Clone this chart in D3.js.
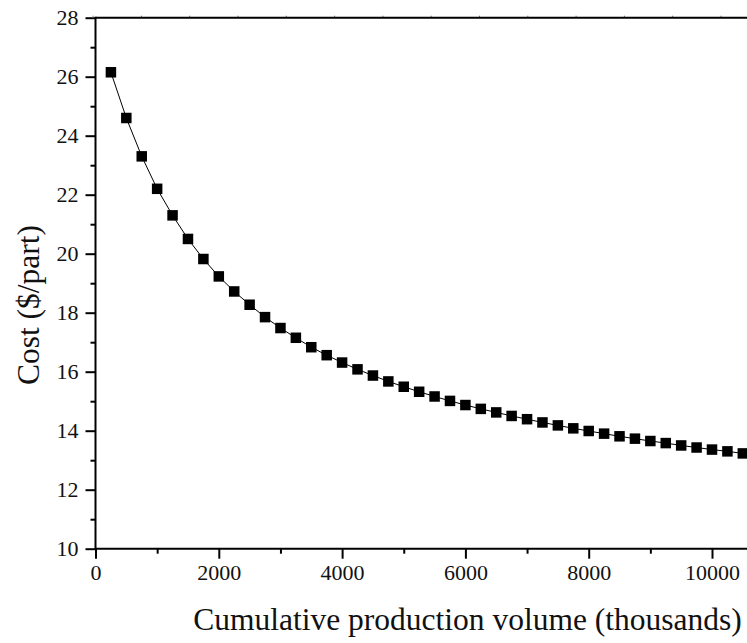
<!DOCTYPE html>
<html>
<head>
<meta charset="utf-8">
<script src="https://cdn.jsdelivr.net/npm/d3@7"></script>
<style>
  body { margin: 0; background: #fff; }
  svg { display: block; font-family: "Liberation Serif", "Times New Roman", serif; }
</style>
</head>
<body>
<div id="chart"></div>
<script>
// Size of the page
const WIDTH = 747;
const HEIGHT = 643;

// Plot box
const LEFT = 95.5;
const TOP = 17.7;
const BOTTOM = 548.7;

// Data
const volume = [
  250, 500, 750, 1000, 1250, 1500, 1750, 2000, 2250, 2500, 2750, 3000, 3250, 3500,
  3750, 4000, 4250, 4500, 4750, 5000, 5250, 5500, 5750, 6000, 6250, 6500, 6750, 7000,
  7250, 7500, 7750, 8000, 8250, 8500, 8750, 9000, 9250, 9500, 9750, 10000, 10250, 10500
];
const cost = [
  26.15, 24.6, 23.3, 22.2, 21.3, 20.5, 19.82, 19.23, 18.72, 18.27, 17.85, 17.48, 17.15, 16.83,
  16.56, 16.31, 16.08, 15.87, 15.67, 15.49, 15.32, 15.16, 15.01, 14.87, 14.74, 14.62, 14.5, 14.39,
  14.28, 14.18, 14.08, 13.99, 13.9, 13.81, 13.73, 13.65, 13.58, 13.5, 13.43, 13.36, 13.3, 13.23
];

// Tick values
const xMajor = [0, 2000, 4000, 6000, 8000, 10000];
const xMinor = [1000, 3000, 5000, 7000, 9000, 11000];
const yMajor = [10, 12, 14, 16, 18, 20, 22, 24, 26, 28];
const yMinor = [11, 13, 15, 17, 19, 21, 23, 25, 27];

const points = volume.map((v, i) => [v, cost[i]]);

var svg = d3
  .select("#chart")
  .append("svg")
  .attr("width", WIDTH)
  .attr("height", HEIGHT);

// Scales
const xScale = d3.scaleLinear().domain([0, 10000]).range([LEFT, 712]);
const yScale = d3.scaleLinear().domain([10, 28]).range([BOTTOM, TOP]);
const xEnd = xScale.invert(WIDTH + 5);

/* Styles an axis group */
function styleAxis(g) {
  g.attr("font-family", '"Liberation Serif", "Times New Roman", serif').attr("font-size", 22);
  g.select(".domain").remove();
  g.selectAll(".tick line").attr("stroke", "#000").attr("stroke-width", 2);
  g.selectAll(".tick text").attr("fill", "#111");
}

// Bottom axis, major then minor ticks
svg
  .append("g")
  .attr("transform", "translate(0," + BOTTOM + ")")
  .call(d3.axisBottom(xScale).tickValues(xMajor).tickSize(10).tickPadding(6).tickFormat(d3.format("d")))
  .call(styleAxis);

svg
  .append("g")
  .attr("transform", "translate(0," + BOTTOM + ")")
  .call(d3.axisBottom(xScale).tickValues(xMinor).tickSize(5).tickFormat(""))
  .call(styleAxis);

// Left axis, major then minor ticks
svg
  .append("g")
  .attr("transform", "translate(" + LEFT + ",0)")
  .call(d3.axisLeft(yScale).tickValues(yMajor).tickSize(10).tickPadding(7).tickFormat(d3.format("d")))
  .call(styleAxis);

svg
  .append("g")
  .attr("transform", "translate(" + LEFT + ",0)")
  .call(d3.axisLeft(yScale).tickValues(yMinor).tickSize(5).tickFormat(""))
  .call(styleAxis);

// Top axis, small faint ticks
svg
  .append("g")
  .attr("transform", "translate(0," + TOP + ")")
  .call(d3.axisTop(d3.scaleLinear().domain([0, 14]).range([92.6, 92.6 + 14 * 48.3])).ticks(14).tickSize(2).tickFormat(""))
  .call((g) => {
    g.select(".domain").remove();
    g.selectAll(".tick line").attr("stroke", "#777").attr("stroke-width", 1);
  });

// Frame lines
svg
  .append("line")
  .attr("x1", LEFT)
  .attr("x2", xScale(xEnd))
  .attr("y1", TOP)
  .attr("y2", TOP)
  .attr("stroke", "#000")
  .attr("stroke-width", 2);

svg
  .append("line")
  .attr("x1", LEFT)
  .attr("x2", xScale(xEnd))
  .attr("y1", BOTTOM)
  .attr("y2", BOTTOM)
  .attr("stroke", "#000")
  .attr("stroke-width", 2);

svg
  .append("line")
  .attr("x1", LEFT)
  .attr("x2", LEFT)
  .attr("y1", TOP - 1)
  .attr("y2", BOTTOM + 1)
  .attr("stroke", "#000")
  .attr("stroke-width", 2);

// Thin connecting line
const line = d3
  .line()
  .x((d) => xScale(d[0]))
  .y((d) => yScale(d[1]));

svg
  .append("path")
  .datum(points)
  .attr("d", line)
  .attr("fill", "none")
  .attr("stroke", "#000")
  .attr("stroke-width", 1);

// Square markers
const MARK = 10.5;
svg
  .selectAll("rect.mark")
  .data(points)
  .enter()
  .append("rect")
  .attr("class", "mark")
  .attr("x", (d) => xScale(d[0]) - MARK / 2)
  .attr("y", (d) => yScale(d[1]) - MARK / 2)
  .attr("width", MARK)
  .attr("height", MARK)
  .attr("fill", "#000");

// Axis labels
svg
  .append("text")
  .attr("x", 467.5)
  .attr("y", 630)
  .attr("text-anchor", "middle")
  .style("font-size", "31.5px")
  .attr("fill", "#111")
  .text("Cumulative production volume (thousands)");

svg
  .append("text")
  .attr("transform", "rotate(-90)")
  .attr("x", -305)
  .attr("y", 39)
  .attr("text-anchor", "middle")
  .style("font-size", "31.5px")
  .attr("fill", "#111")
  .text("Cost ($/part)");
</script>
</body>
</html>
